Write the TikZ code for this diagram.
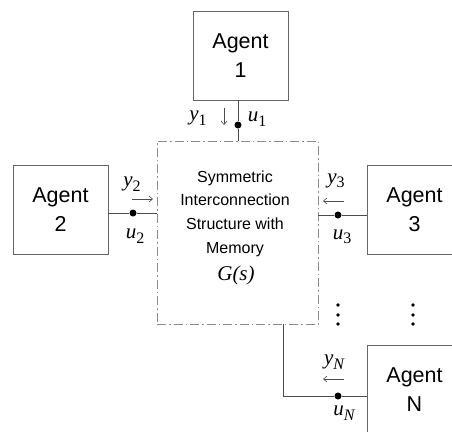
\documentclass[tikz,border=0pt]{standalone}
\usepackage{fontspec}
\setmainfont{Liberation Sans}
\newfontfamily\tms{Liberation Serif}
\usetikzlibrary{arrows.meta}
\newcommand{\lbl}[2]{{\tms\itshape #1}\raisebox{-4.5pt}{\tms\fontsize{16}{16}\selectfont #2}}
\begin{document}
\begin{tikzpicture}[x=1pt,y=-1pt,
  agent/.style={draw=black!60, line width=0.9pt, minimum width=95pt, minimum height=89pt,
    inner sep=0pt, align=center, font=\fontsize{21.5}{29}\selectfont},
  mainbox/.style={draw=black!45, line width=0.9pt, dash pattern=on 9pt off 3pt on 1.5pt off 3pt,
    minimum width=161pt, minimum height=183pt, inner sep=0pt},
  wire/.style={draw=black!70, line width=0.9pt},
  junction/.style={circle, fill=black, inner sep=0pt, minimum size=7pt},
  sig/.style={-{Straight Barb[length=3.5pt,width=6pt]}, draw=black!70, line width=0.6pt},
  lab/.style={font=\fontsize{21}{21}\selectfont, inner sep=0pt},
  vdot/.style={circle, fill=black, inner sep=0pt, minimum size=3.6pt}
]
\useasboundingbox (0,0) rectangle (452,431);
\clip (0,0) rectangle (452,431);

% boxes
\node[agent] (a1) at (240.5,55.5) {Agent\\1};
\node[agent] (a2) at (60.5,210) {Agent\\2};
\node[agent] (a3) at (414.5,210) {Agent\\3};
\node[agent] (aN) at (414.5,389.5) {Agent\\N};
\node[mainbox] (G) at (237.5,232.5) {};
\node[align=center, font=\fontsize{16}{23.6}\selectfont, inner sep=0pt] (Gtxt) at (235,213.5)
  {Symmetric\\Interconnection\\Structure with\\Memory};
\node[font=\tms\itshape\fontsize{21}{21}\selectfont, inner sep=0pt] (Gs) at (236,275) {G(s)};

% junctions
\node[junction] (d1) at (238,125) {};
\node[junction] (d2) at (133,213) {};
\node[junction] (d3) at (338,215) {};
\node[junction] (dN) at (338,396) {};
\coordinate (cN) at (283,396);

% wires
\draw[wire] (a1.south -| d1) -- (d1) -- (d1 |- G.north);
\draw[wire] (a2.east |- d2) -- (d2) -- (d2 -| G.west);
\draw[wire] (G.east |- d3) -- (d3) -- (d3 -| a3.west);
\draw[wire] (cN |- G.south) -- (cN) -- (dN) -- (dN -| aN.west);

% signal arrows
\coordinate (s1a) at (224,108); \coordinate (s1b) at (224,125);
\coordinate (s2a) at (132,199); \coordinate (s2b) at (153,199);
\coordinate (s3a) at (344,201); \coordinate (s3b) at (323,201);
\coordinate (sNa) at (344,379); \coordinate (sNb) at (323,379);
\draw[sig] (s1a) -- (s1b);
\draw[sig] (s2a) -- (s2b);
\draw[sig] (s3a) -- (s3b);
\draw[sig] (sNa) -- (sNb);

% labels
\node[lab] (y1) at (198,118) {\lbl{y}{1}};
\node[lab] (u1) at (257,119) {\lbl{u}{1}};
\node[lab] (y2) at (132,184) {\lbl{y}{2}};
\node[lab] (u2) at (135,236) {\lbl{u}{2}};
\node[lab] (y3) at (336,181) {\lbl{y}{3}};
\node[lab] (u3) at (342,237) {\lbl{u}{3}};
\node[lab] (yN) at (334,362) {\lbl{y}{\itshape N}};
\node[lab] (uN) at (344,413) {\lbl{u}{\itshape N}};

% ellipsis dots
\foreach \x/\n in {338/a,413/b}{
  \node[vdot] (e\n1) at (\x,305) {};
  \node[vdot] (e\n2) at (\x,315) {};
  \node[vdot] (e\n3) at (\x,324) {};
}
\end{tikzpicture}
\end{document}
